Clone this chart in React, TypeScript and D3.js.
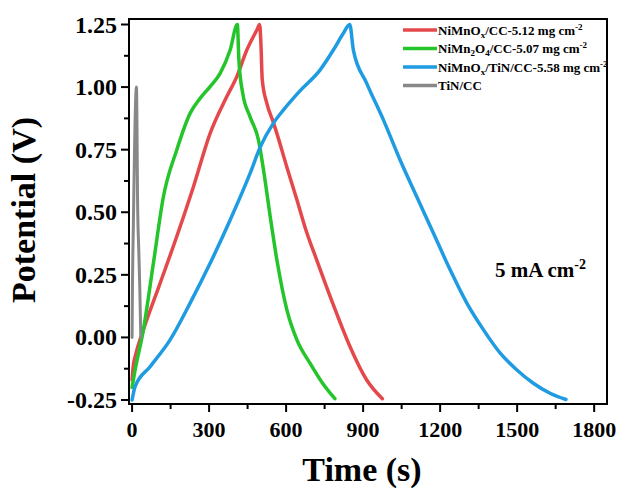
import React from "react";
import * as d3 from "d3";

type Pt = [number, number];

const seriesNames = ["NiMnOx/CC-5.12", "NiMn2O4/CC-5.07", "NiMnOx/TiN/CC-5.58", "TiN/CC"];
const seriesColors = ["#e5484b", "#24c52a", "#1f9be2", "#888888"];

const redData: Pt[] = [
  [0, -0.17], [5, -0.11], [12, -0.077], [44, 0.03], [109, 0.216], [174, 0.403], [239, 0.602],
  [304, 0.815], [369, 0.962], [408, 1.042], [447, 1.148], [486, 1.228], [497, 1.25],
  [502, 1.17], [507, 1.03], [525, 0.935], [550, 0.86], [564, 0.815], [603, 0.68],
  [642, 0.55], [680, 0.42], [719, 0.31], [784, 0.13], [849, -0.037], [914, -0.17], [975, -0.245],
];

const greenData: Pt[] = [
  [0, -0.2], [10, -0.14], [44, 0.03], [83, 0.296], [122, 0.562], [174, 0.749], [226, 0.895],
  [265, 0.955], [304, 1.002], [343, 1.055], [382, 1.148], [410, 1.25],
  [416, 1.11], [431, 0.975], [460, 0.88], [492, 0.79], [512, 0.669], [538, 0.483],
  [564, 0.31], [603, 0.11], [642, -0.01], [693, -0.103], [740, -0.18], [790, -0.245],
];

const blueData: Pt[] = [
  [0, -0.25], [12, -0.196], [70, -0.117], [148, -0.01], [226, 0.137], [304, 0.296], [382, 0.469],
  [460, 0.656], [499, 0.76], [550, 0.855], [589, 0.908], [654, 0.985], [732, 1.068], [784, 1.148],
  [823, 1.215], [848, 1.25],
  [862, 1.148], [914, 1.015], [979, 0.869], [1044, 0.709], [1109, 0.562], [1174, 0.416],
  [1239, 0.27], [1304, 0.137], [1369, 0.03], [1434, -0.063], [1499, -0.13], [1563, -0.183],
  [1628, -0.223], [1690, -0.248],
];

const greyData: Pt[] = [
  [0, 0.0], [1, 0.15], [5, 0.45], [17, 1.0], [22, 0.5], [26, 0.35], [30, 0.2], [34, 0.0],
];

const allData = [redData, greenData, blueData, greyData];

const xTicks = [0, 300, 600, 900, 1200, 1500, 1800];
const xMinorTicks = [150, 450, 750, 1050, 1350, 1650];
const yTicks = [-0.25, 0, 0.25, 0.5, 0.75, 1.0, 1.25];
const yMinorTicks = [-0.125, 0.125, 0.375, 0.625, 0.875, 1.125];

const FONT = "'Liberation Serif', 'Times New Roman', serif";

export default function App() {
  const left = 129, right = 607, top = 19, bottom = 404;
  const x = d3.scaleLinear().domain([-12, 1850]).range([left, right]);
  const y = d3.scaleLinear().domain([-0.266, 1.272]).range([bottom, top]);
  const line = d3
    .line<Pt>()
    .x((d) => x(d[0]))
    .y((d) => y(d[1]))
    .curve(d3.curveMonotoneX);

  const legendRows = [
    { main: "NiMnO", sub: "x", rest: "/CC-5.12 mg cm", sup: "-2" },
    { main: "NiMn", sub: "2", rest: "O", sub2: "4", rest2: "/CC-5.07 mg cm", sup: "-2" },
    { main: "NiMnO", sub: "x", rest: "/TiN/CC-5.58 mg cm", sup: "-2" },
    { main: "TiN/CC" },
  ];

  return (
    <svg width={621} height={490} style={{ position: "absolute", left: 0, top: 0, background: "#fff" }}>
      <rect x={0} y={0} width={621} height={490} fill="#fff" />
      <g>
        {allData.map((d, i) => (
          <path
            key={i}
            d={line(d) || ""}
            fill="none"
            stroke={seriesColors[i]}
            strokeWidth={i === 3 ? 3 : 3.5}
            strokeLinejoin="round"
            strokeLinecap="round"
          />
        ))}
      </g>
      {/* frame */}
      <rect x={left} y={top} width={right - left} height={bottom - top} fill="none" stroke="#000" strokeWidth={2} />
      {/* x ticks */}
      {xTicks.map((t) => (
        <g key={"xt" + t}>
          <line x1={x(t)} x2={x(t)} y1={bottom} y2={bottom + 8} stroke="#000" strokeWidth={2} />
          <text x={x(t)} y={437} textAnchor="middle" fontFamily={FONT} fontWeight="bold" fontSize={22}>
            {t}
          </text>
        </g>
      ))}
      {xMinorTicks.map((t) => (
        <line key={"xm" + t} x1={x(t)} x2={x(t)} y1={bottom} y2={bottom + 5} stroke="#000" strokeWidth={2} />
      ))}
      {/* y ticks */}
      {yTicks.map((t) => (
        <g key={"yt" + t}>
          <line x1={left - 8} x2={left} y1={y(t)} y2={y(t)} stroke="#000" strokeWidth={2} />
          <text x={117} y={y(t) + 8} textAnchor="end" fontFamily={FONT} fontWeight="bold" fontSize={24}>
            {t.toFixed(2)}
          </text>
        </g>
      ))}
      {yMinorTicks.map((t) => (
        <line key={"ym" + t} x1={left - 5} x2={left} y1={y(t)} y2={y(t)} stroke="#000" strokeWidth={2} />
      ))}
      {/* axis titles */}
      <text x={362} y={481} textAnchor="middle" fontFamily={FONT} fontWeight="bold" fontSize={34}>
        Time (s)
      </text>
      <text
        transform="translate(35,210) rotate(-90)"
        textAnchor="middle"
        fontFamily={FONT}
        fontWeight="bold"
        fontSize={34}
      >
        Potential (V)
      </text>
      {/* legend */}
      {legendRows.map((r, i) => {
        const ly = 30 + i * 18.5;
        return (
          <g key={"lg" + i}>
            <line x1={403} x2={437} y1={ly} y2={ly} stroke={seriesColors[i]} strokeWidth={3.5} />
            <text x={438} y={ly + 4.5} fontFamily={FONT} fontWeight="bold" fontSize={13}>
              <tspan>{r.main}</tspan>
              {r.sub && (
                <tspan fontSize={9} dy={3}>
                  {r.sub}
                </tspan>
              )}
              {r.rest && <tspan dy={r.sub ? -3 : 0}>{r.rest}</tspan>}
              {r.sub2 && (
                <tspan fontSize={9} dy={3}>
                  {r.sub2}
                </tspan>
              )}
              {r.rest2 && <tspan dy={-3}>{r.rest2}</tspan>}
              {r.sup && (
                <tspan fontSize={9} dy={-5}>
                  {r.sup}
                </tspan>
              )}
            </text>
          </g>
        );
      })}
      {/* annotation */}
      <text x={495} y={277} fontFamily={FONT} fontWeight="bold" fontSize={21}>
        <tspan>5 mA cm</tspan>
        <tspan fontSize={14} dy={-8}>
          -2
        </tspan>
      </text>
    </svg>
  );
}
